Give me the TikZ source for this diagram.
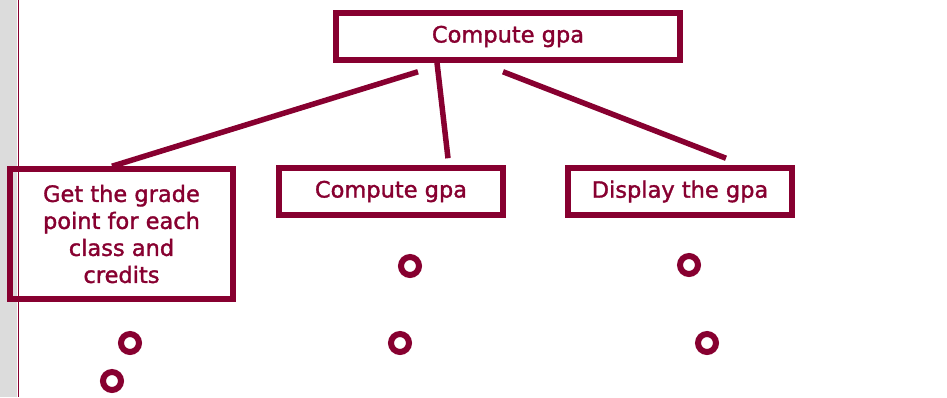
\documentclass[tikz,border=0pt]{standalone}
\usepackage{fontspec}
\setmainfont{DejaVu Sans}[UprightFeatures={FakeBold=1.5}]
\definecolor{wine}{RGB}{135,0,48}
\definecolor{margin}{RGB}{220,220,220}
\begin{document}
\begin{tikzpicture}[x=1pt, y=-1pt, line width=5.5pt,
    box/.style = {draw=wine, text=wine, font=\fontsize{22.5}{27}\selectfont, inner sep=0pt, minimum height=47pt, minimum width=224pt},
    link/.style = {draw=wine},
    ring/.style = {draw=wine, circle, line width=6pt, minimum size=18pt, inner sep=0pt}]
    \useasboundingbox (0,0) rectangle (947,397);
    \fill[margin] (0,0) rectangle (17,397);
    \draw[wine, line width=1pt] (18,0) -- (18,397);

    \node[box, minimum width=344pt] (top) at (508,36.5) {Compute gpa};
    \node[box, minimum width=223pt, minimum height=130pt, align=center] (left) at (121.5,234) {Get the grade\\point for each\\class and\\credits};
    \node[box] (mid) at (391,191.5) {Compute gpa};
    \node[box] (right) at (680,191.5) {Display the gpa};

    \draw[link] ([xshift=-90pt,yshift=-9pt]top.south) -- ([xshift=-9.5pt]left.north);
    \draw[link] ([xshift=-71pt]top.south) -- ([xshift=57pt,yshift=7pt]mid.north);
    \draw[link] ([xshift=-5pt,yshift=-9pt]top.south) -- ([xshift=46pt,yshift=7pt]right.north);

    \node[ring] (m1) at (410,266) {};
    \node[ring] (m2) at (400,343) {};
    \node[ring] (r1) at (689,265) {};
    \node[ring] (r2) at (707,343) {};
    \node[ring] (l1) at (130,343) {};
    \node[ring] (l2) at (112,381) {};
\end{tikzpicture}
\end{document}
